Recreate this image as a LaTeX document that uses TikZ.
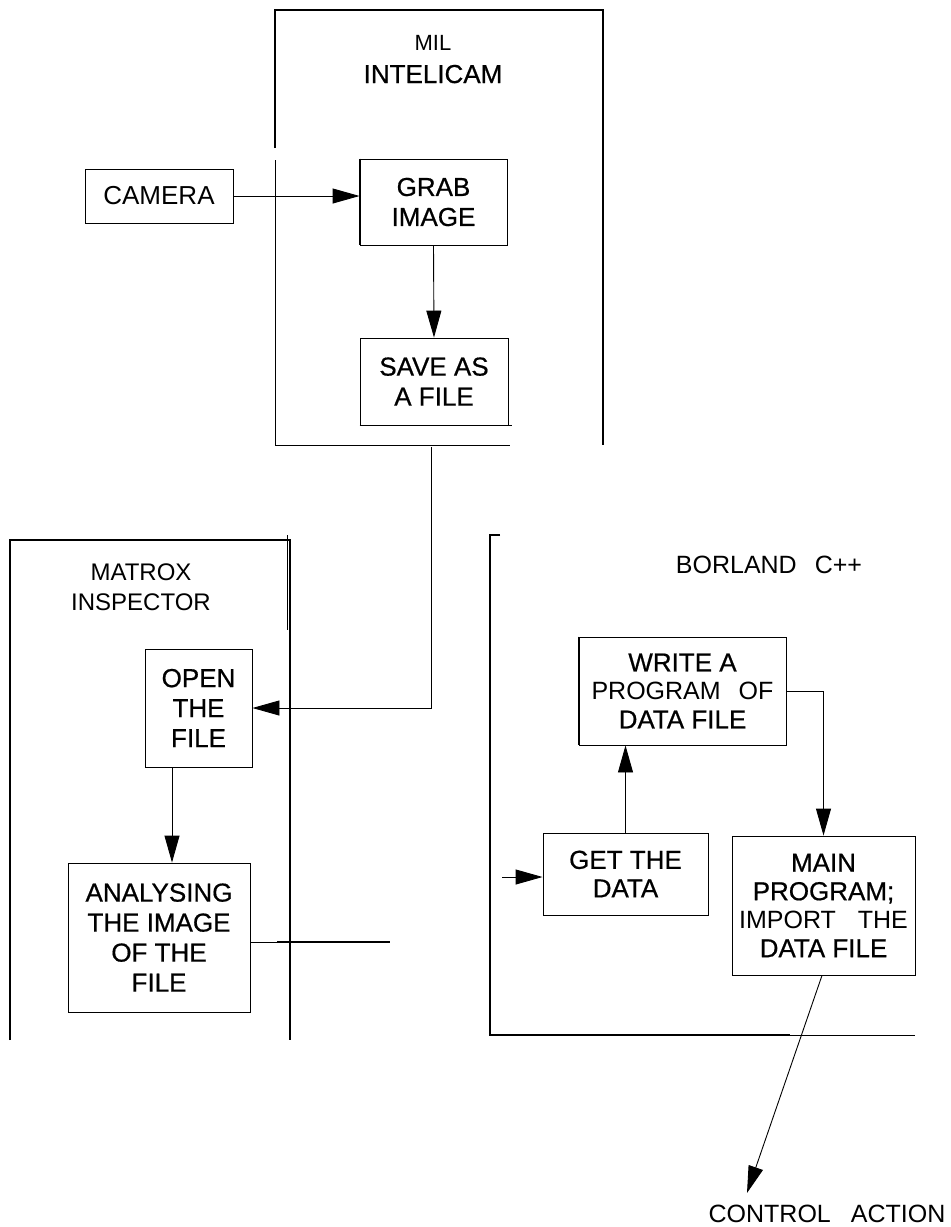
\documentclass[tikz,border=0pt]{standalone}
\usepackage{fontspec}
\setmainfont{Liberation Sans}
\newfontfamily\heavy[FakeBold=0.6]{Liberation Sans}
\usetikzlibrary{arrows.meta}
\begin{document}
\begin{tikzpicture}[x=1pt,y=-1pt,
  box/.style={draw, line width=0.9pt, inner sep=0pt, align=center, font=\heavy\fontsize{26}{30}\selectfont},
  tbox/.style={box, font=\heavy\fontsize{26}{28.5}\selectfont},
  arr/.style={line width=0.9pt, -{Triangle[length=27pt,width=15pt]}},
  thinline/.style={line width=0.9pt},
  panel/.style={line width=2.2pt},
  lbl/.style={inner sep=0pt, anchor=base}]
\useasboundingbox (0,0) rectangle (951,1227);

% panels
\draw[panel] (275,148) -- (275,10) -- (603,10) -- (603,445);
\draw[thinline] (275,160) -- (275,445) -- (510,445);
\draw[panel] (10,1040) -- (10,540) -- (290,540) -- (290,1040);
\draw[thinline] (287,535) -- (287,630);
\draw[panel] (500,535) -- (490,535) -- (490,1035) -- (790,1035);
\draw[thinline] (790,1035) -- (915,1035);

% panel labels
\node[lbl, font=\fontsize{22}{26}\selectfont] (mil) at (433,50) {MIL};
\node[lbl, font=\heavy\fontsize{26}{30}\selectfont] (intelicam) at (433,83) {INTELICAM};
\node[lbl, font=\fontsize{24}{28}\selectfont] (matrox) at (141,580) {MATROX};
\node[lbl, font=\fontsize{24}{28}\selectfont] (inspector) at (141,610) {INSPECTOR};
\node[lbl, font=\fontsize{25}{28}\selectfont] (borland) at (769,573) {BORLAND\hspace{18pt}C++};
\node[lbl, font=\fontsize{25}{28}\selectfont] (control) at (827,1222) {CONTROL\hspace{20pt}ACTION};

% boxes
\node[box, font=\fontsize{26}{30}\selectfont, minimum width=148pt, minimum height=54pt] (camera) at (159,196) {CAMERA};
\node[box, minimum width=147pt, minimum height=86pt] (grab) at (433.5,202) {GRAB\\IMAGE};
\node[box, minimum width=148pt, minimum height=87pt] (save) at (434,381.5) {SAVE AS\\A FILE};
\node[box, minimum width=107pt, minimum height=118pt] (open) at (198.5,708) {OPEN\\THE\\FILE};
\node[box, minimum width=182pt, minimum height=149pt] (analyse) at (159,937.5) {ANALYSING\\THE IMAGE\\OF THE\\FILE};
\node[tbox, minimum width=207pt, minimum height=108pt] (write) at (682.5,691) {WRITE A\\{\normalfont\fontsize{25}{28.5}\selectfont PROGRAM\hspace{18pt}OF}\\DATA FILE};
\node[tbox, minimum width=165pt, minimum height=82pt] (get) at (625.5,874) {GET THE\\DATA};
\node[tbox, minimum width=183pt, minimum height=139pt] (main) at (823.5,905.5) {MAIN\\PROGRAM;\\{\normalfont\fontsize{25}{28.5}\selectfont IMPORT\hspace{22pt}THE}\\DATA FILE};

% thick edges of some boxes
\draw[line width=2pt] (grab.north west) -- (grab.south west);
\draw[line width=1.8pt] (save.south west) -- ([xshift=4pt]save.south east);
\draw[line width=1.8pt] (write.north west) -- (write.south west);

% connectors
\coordinate (s1) at (431,447);
\coordinate (oa) at (172,767);
\coordinate (af) at (390,942);
\coordinate (gi) at (502,877);
\coordinate (ct) at (747,1193);

\draw[arr] (camera.east) -- (camera.east -| grab.west);
\draw[arr] (grab.south) -- (save.north);
\draw[arr] (s1) -- (s1 |- open.east) -- (open.east);
\draw[arr] (oa) -- (oa |- analyse.north);
\draw[thinline] (af -| analyse.east) -- (af);
\draw[line width=1.6pt] (277,942) -- (af);
\draw[arr] (gi) -- (gi -| get.west);
\draw[arr] (get.north) -- (get.north |- write.south);
\draw[arr] (write.east) -- (main.north |- write.east) -- (main.north);
\draw[arr] ([xshift=-1.5pt]main.south) -- (ct);
\end{tikzpicture}
\end{document}
